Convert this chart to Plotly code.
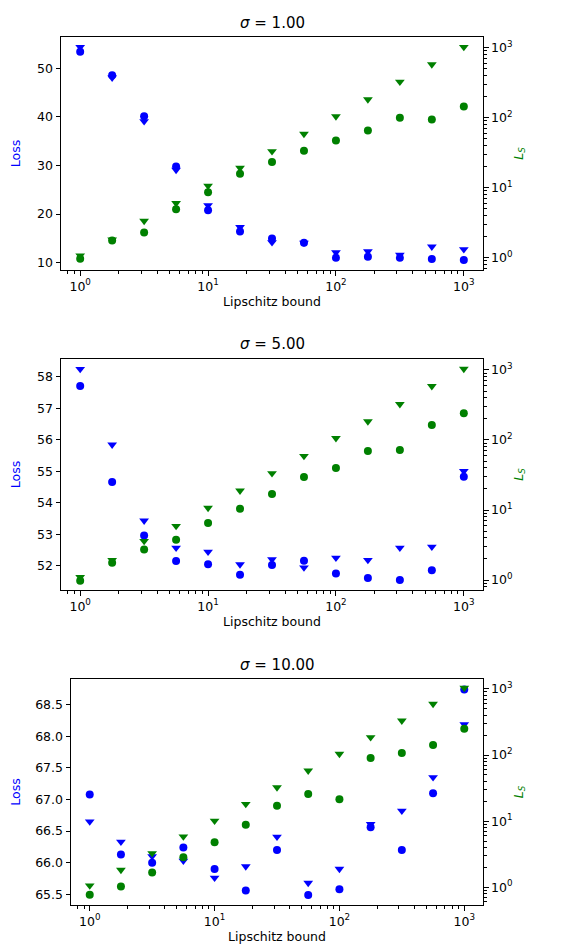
import plotly.graph_objects as go

lipschitz = [1, 1.778, 3.162, 5.623, 10, 17.78, 31.62, 56.23, 100, 177.8, 316.2, 562.3, 1000]

# sigma = 1.00
loss1_circ = [53.44, 48.6, 40.15, 29.8, 20.8, 16.4, 15.0, 14.1, 11.0, 11.2, 11.0, 10.76, 10.55]
loss1_tri = [54.4, 48.1, 39.1, 29.1, 21.8, 17.3, 14.2, 14.1, 12.1, 12.3, 11.6, 13.3, 12.75]
ls1_circ = [0.96, 1.75, 2.28, 4.93, 8.6, 15.8, 23.3, 33.8, 47, 65.4, 99.4, 94, 144]
ls1_tri = [1.07, 1.8, 3.35, 6.0, 10.6, 19.1, 33, 58.6, 104, 182, 326, 577, 1023]

# sigma = 5.00
loss2_circ = [57.70, 54.66, 52.96, 52.15, 52.05, 51.71, 52.02, 52.16, 51.75, 51.61, 51.55, 51.86, 54.82]
loss2_tri = [58.24, 55.84, 53.43, 52.57, 52.44, 52.04, 52.2, 51.94, 52.25, 52.18, 52.57, 52.6, 55.0]
ls2_circ = [0.98, 1.77, 2.73, 3.75, 6.5, 10.4, 16.9, 29.6, 39.8, 69.4, 71.7, 163, 241]
ls2_tri = [1.1, 1.93, 3.6, 5.9, 10.7, 18.9, 33.4, 59, 106, 184, 324, 585, 1032]

# sigma = 10.00
loss3_circ = [67.08, 66.13, 66.0, 66.24, 65.90, 65.56, 66.2, 65.49, 65.58, 66.56, 66.2, 67.1, 68.74]
loss3_tri = [66.65, 66.33, 66.1, 66.03, 65.76, 65.94, 66.41, 65.68, 65.9, 66.61, 66.82, 67.35, 68.19]
ls3_circ = [0.77, 1.03, 1.67, 2.85, 4.8, 8.8, 17.1, 25.7, 21.5, 90, 107, 142, 250]
ls3_tri = [1.06, 1.83, 3.27, 5.86, 10.1, 18.1, 32.4, 58, 104, 185, 331, 593, 1036]

titles = ["<i>σ</i> = 1.00", "<i>σ</i> = 5.00", "<i>σ</i> = 10.00"]
log_tickvals = [1, 10, 100, 1000]
log_ticktext = ["10<sup>0</sup>", "10<sup>1</sup>", "10<sup>2</sup>", "10<sup>3</sup>"]
minor_tickvals = [m * d for d in [0.1, 1, 10, 100, 1000] for m in range(2, 10)]

BLUE = "#0000ff"
GREEN = "#008000"
FONT = "DejaVu Sans"
W, H = 576, 946

panels = [
    dict(loss_c=loss1_circ, loss_t=loss1_tri, ls_c=ls1_circ, ls_t=ls1_tri,
         xpx=(53, 475), ypx=(29, 262), lrange=[8.49, 56.47], rrange=[-0.177, 3.153],
         ldtick=10, ltickformat="d", title_y=15),
    dict(loss_c=loss2_circ, loss_t=loss2_tri, ls_c=ls2_circ, ls_t=ls2_tri,
         xpx=(53, 475), ypx=(351, 582), lrange=[51.23, 58.56], rrange=[-0.142, 3.156],
         ldtick=1, ltickformat="d", title_y=336),
    dict(loss_c=loss3_circ, loss_t=loss3_tri, ls_c=ls3_circ, ls_t=ls3_tri,
         xpx=(63, 475), ypx=(671, 897), lrange=[65.33, 68.907], rrange=[-0.268, 3.15],
         ldtick=0.5, ltickformat=".1f", title_y=657),
]

fig = go.Figure()
tickfont = dict(family=FONT, size=12.5, color="black")
layout = dict(width=W, height=H, margin=dict(l=0, r=0, t=0, b=0),
              paper_bgcolor="white", plot_bgcolor="white", showlegend=False,
              font=dict(family=FONT, size=12.5, color="black"))
annotations = []
minor_style = dict(tickmode="array", tickvals=minor_tickvals, ticks="outside", ticklen=2.5,
                   tickwidth=1, tickcolor="black", showgrid=False)

for i, p in enumerate(panels):
    xn = i + 1
    yl = 2 * i + 1
    yr = 2 * i + 2
    xname = "xaxis" if xn == 1 else f"xaxis{xn}"
    ylname = "yaxis" if yl == 1 else f"yaxis{yl}"
    yrname = f"yaxis{yr}"
    xref = "x" if xn == 1 else f"x{xn}"
    ylref = "y" if yl == 1 else f"y{yl}"
    yrref = f"y{yr}"
    xd = [p["xpx"][0] / W, p["xpx"][1] / W]
    yd = [1 - p["ypx"][1] / H, 1 - p["ypx"][0] / H]

    fig.add_trace(go.Scatter(x=lipschitz, y=p["loss_t"], mode="markers", xaxis=xref, yaxis=ylref,
                             marker=dict(symbol="triangle-down", size=8.5, color=BLUE), name="Loss (tri)"))
    fig.add_trace(go.Scatter(x=lipschitz, y=p["loss_c"], mode="markers", xaxis=xref, yaxis=ylref,
                             marker=dict(symbol="circle", size=8, color=BLUE), name="Loss (circ)"))
    fig.add_trace(go.Scatter(x=lipschitz, y=p["ls_t"], mode="markers", xaxis=xref, yaxis=yrref,
                             marker=dict(symbol="triangle-down", size=8.5, color=GREEN), name="L_S (tri)"))
    fig.add_trace(go.Scatter(x=lipschitz, y=p["ls_c"], mode="markers", xaxis=xref, yaxis=yrref,
                             marker=dict(symbol="circle", size=8, color=GREEN), name="L_S (circ)"))

    layout[xname] = dict(domain=xd, anchor=ylref, type="log", range=[-0.15, 3.15],
                         tickmode="array", tickvals=log_tickvals, ticktext=log_ticktext, tickfont=tickfont,
                         ticks="outside", ticklen=4.5, tickwidth=1, tickcolor="black",
                         minor=minor_style,
                         showline=True, linecolor="black", linewidth=1, mirror=True,
                         showgrid=False, zeroline=False,
                         title=dict(text="Lipschitz bound", font=dict(family=FONT, size=12.5, color="black"),
                                    standoff=4))
    layout[ylname] = dict(domain=yd, anchor=xref, range=p["lrange"], dtick=p["ldtick"],
                          tickformat=p["ltickformat"], tickfont=tickfont,
                          ticks="outside", ticklen=4.5, tickwidth=1, tickcolor="black",
                          showline=True, linecolor="black", linewidth=1,
                          showgrid=False, zeroline=False,
                          title=dict(text="Loss", font=dict(family=FONT, size=12.5, color=BLUE), standoff=13))
    layout[yrname] = dict(overlaying=ylref, anchor=xref, side="right", type="log", range=p["rrange"],
                          tickmode="array", tickvals=log_tickvals, ticktext=log_ticktext, tickfont=tickfont,
                          ticks="outside", ticklen=4.5, tickwidth=1, tickcolor="black",
                          minor=minor_style,
                          showline=True, linecolor="black", linewidth=1,
                          showgrid=False, zeroline=False,
                          title=dict(text="<i>L</i><sub><i>S</i></sub>",
                                     font=dict(family=FONT, size=12.5, color=GREEN), standoff=2))
    annotations.append(dict(text=titles[i], xref="paper", yref="paper",
                            x=(xd[0] + xd[1]) / 2, y=1 - p["title_y"] / H,
                            xanchor="center", yanchor="middle", showarrow=False,
                            font=dict(family=FONT, size=15, color="black")))

layout["annotations"] = annotations
fig.update_layout(**layout)
fig.write_html("out.html")
